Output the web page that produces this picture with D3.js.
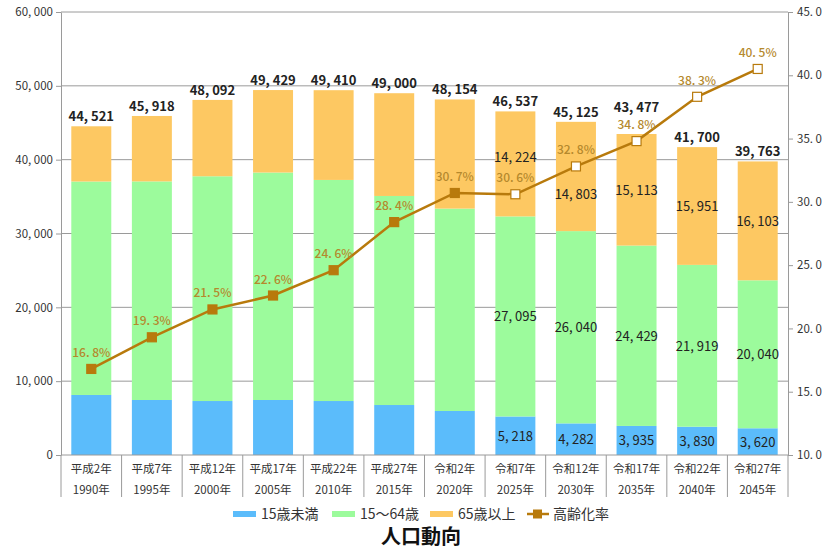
<!DOCTYPE html>
<html>
<head>
<meta charset="utf-8">
<script src="https://cdn.jsdelivr.net/npm/d3@7"></script>
<style>
	body { margin: 0; background: #fff; }
	text { font-family: "Noto Sans CJK JP", "DejaVu Sans", sans-serif; }
</style>
</head>
<body>
<svg id="chart" width="822" height="550"></svg>
<script>
// categories (two label rows)
const eras = ['平成2年', '平成7年', '平成12年', '平成17年', '平成22年', '平成27年',
	'令和2年', '令和7年', '令和12年', '令和17年', '令和22年', '令和27年'];
const years = ['1990年', '1995年', '2000年', '2005年', '2010年', '2015年',
	'2020年', '2025年', '2030年', '2035年', '2040年', '2045年'];

// population by age group
const under15 = [8130, 7450, 7310, 7450, 7310, 6770, 5960, 5218, 4282, 3935, 3830, 3620];
const age15to64 = [28911, 29606, 30442, 30808, 29945, 28314, 27411, 27095, 26040, 24429, 21919, 20040];
const over65 = [7480, 8862, 10340, 11171, 12155, 13916, 14783, 14224, 14803, 15113, 15951, 16103];
const totals = [44521, 45918, 48092, 49429, 49410, 49000, 48154, 46537, 45125, 43477, 41700, 39763];

// ageing rate (%)
const agingRate = [16.8, 19.3, 21.5, 22.6, 24.6, 28.4, 30.7, 30.6, 32.8, 34.8, 38.3, 40.5];
// first index that is a projection (hollow marker, labelled segments)
const firstProjection = 7;

const seriesNames = ['15歳未満', '15～64歳', '65歳以上'];
const seriesColors = ['#5bbcfb', '#9cfb9c', '#fdc862'];
const lineColor = '#b87a0c';
const rateLabelColor = '#b5892d';

const svg = d3.select('#chart');
const plotL = 61, plotR = 788, plotT = 12, plotB = 455;

const x = d3.scaleBand()
	.domain(d3.range(eras.length))
	.range([plotL, plotR])
	.paddingInner(0.34)
	.paddingOuter(0.17);
const y = d3.scaleLinear().domain([0, 60000]).range([plotB, plotT]);
const yR = d3.scaleLinear().domain([10, 45]).range([plotB, plotT]);

const numFmt = d => d3.format(',')(d).replace(',', ', ');
const pctFmt = d => d.toFixed(1).replace('.', '. ') + '%';

// gridlines
svg.append('g')
	.selectAll('line')
	.data(y.ticks(6).filter(d => d > 0))
	.join('line')
	.attr('x1', plotL)
	.attr('x2', plotR)
	.attr('y1', d => y(d))
	.attr('y2', d => y(d))
	.attr('stroke', '#9a9a9a')
	.attr('stroke-width', 1);

// stacked bars
const rows = eras.map((e, i) => ({ i: i, v: [under15[i], age15to64[i], over65[i]] }));
rows.forEach(r => {
	let base = 0;
	r.v.forEach((v, k) => {
		svg.append('rect')
			.attr('x', x(r.i))
			.attr('width', x.bandwidth())
			.attr('y', y(base + v))
			.attr('height', y(base) - y(base + v))
			.attr('fill', seriesColors[k]);
		base += v;
	});
});

// left axis
const yAxis = svg.append('g')
	.attr('transform', `translate(${plotL},0)`)
	.call(d3.axisLeft(y).ticks(6).tickSize(5).tickSizeOuter(0).tickFormat(numFmt));
yAxis.select('.domain').attr('stroke', '#9a9a9a');
yAxis.selectAll('.tick line').attr('stroke', '#9a9a9a');
yAxis.selectAll('.tick text')
	.attr('fill', '#333')
	.attr('font-size', 11.5)
	.attr('x', -8);

// right axis (labels run off the edge, as in the source)
const rAxis = svg.append('g')
	.attr('transform', `translate(${plotR},0)`)
	.call(d3.axisRight(yR).ticks(7).tickSize(5).tickSizeOuter(0).tickFormat(pctFmt));
rAxis.select('.domain').attr('stroke', '#9a9a9a');
rAxis.selectAll('.tick line').attr('stroke', '#9a9a9a');
rAxis.selectAll('.tick text')
	.attr('fill', '#333')
	.attr('font-size', 11.5)
	.attr('x', 9);

// category axis: baseline, dividers, two-row labels
svg.append('line')
	.attr('x1', plotL).attr('x2', plotR)
	.attr('y1', plotB).attr('y2', plotB)
	.attr('stroke', '#9a9a9a');
const bounds = d3.range(eras.length + 1).map(i => plotL + i * (plotR - plotL) / eras.length);
svg.append('g')
	.selectAll('line')
	.data(bounds)
	.join('line')
	.attr('x1', d => d).attr('x2', d => d)
	.attr('y1', plotB).attr('y2', 497)
	.attr('stroke', '#9a9a9a');
const cx = i => x(i) + x.bandwidth() / 2;
svg.append('g')
	.selectAll('text')
	.data(eras)
	.join('text')
	.attr('x', (d, i) => cx(i))
	.attr('y', 473)
	.attr('text-anchor', 'middle')
	.attr('font-size', 11.5)
	.attr('fill', '#333')
	.text(d => d);
svg.append('g')
	.selectAll('text')
	.data(years)
	.join('text')
	.attr('x', (d, i) => cx(i))
	.attr('y', 494)
	.attr('text-anchor', 'middle')
	.attr('font-size', 11.5)
	.attr('fill', '#333')
	.text(d => d);

// totals above bars (2035 lifted clear of the rate label)
const totalNudge = { 9: -17 };
svg.append('g')
	.selectAll('text')
	.data(totals)
	.join('text')
	.attr('x', (d, i) => cx(i))
	.attr('y', (d, i) => y(d) - 5 + (totalNudge[i] || 0))
	.attr('text-anchor', 'middle')
	.attr('font-size', 13)
	.attr('font-weight', 'bold')
	.attr('fill', '#222')
	.text(numFmt);

// segment labels for the projected years
const nudge = { 7: [0, 0, -7], 8: [0, 0, 18] };
rows.filter(r => r.i >= firstProjection).forEach(r => {
	let base = 0;
	r.v.forEach((v, k) => {
		let mid = (y(base) + y(base + v)) / 2;
		let dy = nudge[r.i] ? nudge[r.i][k] : 0;
		svg.append('text')
			.attr('x', cx(r.i))
			.attr('y', mid + dy + 5)
			.attr('text-anchor', 'middle')
			.attr('font-size', 13)
			.attr('fill', '#222')
			.text(numFmt(v));
		base += v;
	});
});

// ageing rate line
const line = d3.line()
	.x((d, i) => cx(i))
	.y(d => yR(d));
svg.append('path')
	.datum(agingRate)
	.attr('d', line)
	.attr('fill', 'none')
	.attr('stroke', lineColor)
	.attr('stroke-width', 2.5);
svg.append('g')
	.selectAll('rect')
	.data(agingRate)
	.join('rect')
	.attr('x', (d, i) => cx(i) - 4.5)
	.attr('y', d => yR(d) - 4.5)
	.attr('width', 9)
	.attr('height', 9)
	.attr('fill', (d, i) => i >= firstProjection ? '#fff' : lineColor)
	.attr('stroke', lineColor)
	.attr('stroke-width', 1.2);
svg.append('g')
	.selectAll('text')
	.data(agingRate)
	.join('text')
	.attr('x', (d, i) => cx(i))
	.attr('y', d => yR(d) - 12)
	.attr('text-anchor', 'middle')
	.attr('font-size', 12)
	.attr('font-weight', 500)
	.attr('fill', rateLabelColor)
	.text(pctFmt);

// legend
const legend = svg.append('g').attr('transform', 'translate(0,514)');
const legendX = [233, 332, 430];
seriesNames.forEach((name, k) => {
	legend.append('rect')
		.attr('x', legendX[k]).attr('y', -3)
		.attr('width', 23).attr('height', 6)
		.attr('fill', seriesColors[k]);
	legend.append('text')
		.attr('x', legendX[k] + 28).attr('y', 5)
		.attr('font-size', 14)
		.attr('fill', '#333')
		.text(name);
});
legend.append('line')
	.attr('x1', 527).attr('x2', 549)
	.attr('y1', 0).attr('y2', 0)
	.attr('stroke', lineColor)
	.attr('stroke-width', 2.5);
legend.append('rect')
	.attr('x', 533).attr('y', -4.5)
	.attr('width', 9).attr('height', 9)
	.attr('fill', lineColor);
legend.append('text')
	.attr('x', 553).attr('y', 5)
	.attr('font-size', 14)
	.attr('fill', '#333')
	.text('高齢化率');

// title
svg.append('text')
	.attr('x', 421)
	.attr('y', 544)
	.attr('text-anchor', 'middle')
	.attr('font-size', 20)
	.attr('font-weight', 'bold')
	.attr('fill', '#111')
	.text('人口動向');
</script>
</body>
</html>
